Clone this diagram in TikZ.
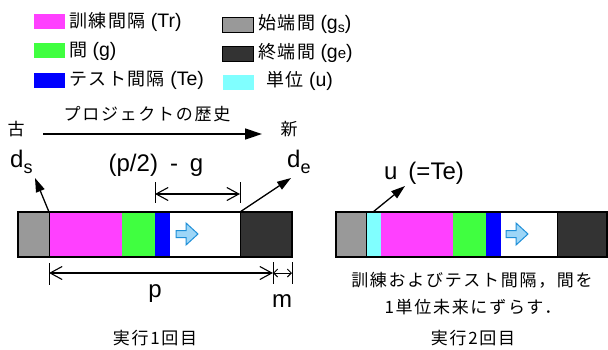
\documentclass[tikz,border=0pt]{standalone}
\usepackage{fontspec}
\setmainfont{Liberation Sans}
\newfontfamily\jp{Noto Sans CJK JP}[LetterSpace=8]
\newfontfamily\jpw{Noto Sans CJK JP}[LetterSpace=10]
\usetikzlibrary{arrows.meta}
\definecolor{cTr}{HTML}{FF40FF}
\definecolor{cG}{HTML}{40FF40}
\definecolor{cTe}{HTML}{0000FF}
\definecolor{cGs}{HTML}{999999}
\definecolor{cGe}{HTML}{333333}
\definecolor{cU}{HTML}{80FFFF}
\definecolor{arrFill}{HTML}{9DD6F7}
\definecolor{arrLine}{HTML}{1E8FD8}
\newcommand{\fs}[1]{\fontsize{#1}{#1}\selectfont}
\tikzset{
  swatch/.style={minimum width=31pt, minimum height=15pt, inner sep=0pt, outer sep=0pt},
  legtext/.style={anchor=west, inner sep=0pt, font=\fs{19.5}},
  big/.style={inner sep=0pt, font=\fs{24}},
  jptext/.style={inner sep=0pt, font=\fs{17}\jpw},
  ptr/.style={line width=1.3pt, -{Triangle[length=14pt,width=9pt]}},
  dim/.style={line width=1.1pt, {Straight Barb[length=12pt,width=13pt]}-{Straight Barb[length=12pt,width=13pt]}},
  dimsmall/.style={line width=0.9pt, {Straight Barb[length=4pt,width=8pt]}-{Straight Barb[length=4pt,width=8pt]}},
  tick/.style={line width=1pt},
  barline/.style={line width=1.4pt},
  blockarrow/.style={fill=arrFill, draw=arrLine, line width=1pt, line join=miter}
}
\newcommand{\blockarr}[2]{%
  \path[blockarrow] (#1-12,#2-3.5) -- (#1-2,#2-3.5) -- (#1-2,#2-11) -- (#1+10,#2) -- (#1-2,#2+11) -- (#1-2,#2+3.5) -- (#1-12,#2+3.5) -- cycle;}
\begin{document}
\begin{tikzpicture}[x=1pt,y=-1pt]
\useasboundingbox (0,0) rectangle (608,349);

% ---------- legend ----------
\node[swatch, fill=cTr] (lTr) at (49.5,21.5) {};
\node[legtext] (tTr) at (69,22) {{\jp\fs{18}訓練間隔} (Tr)};
\node[swatch, fill=cG] (lG) at (49.5,50.5) {};
\node[legtext] (tG) at (69,51) {{\jp\fs{18}間} (g)};
\node[swatch, fill=cTe] (lTe) at (49.5,80) {};
\node[legtext] (tTe) at (69,80) {{\jp\fs{18}テスト間隔} (Te)};

\node[swatch, fill=cGs, draw=black, line width=1pt] (lGs) at (238,24.5) {};
\node[legtext] (tGs) at (258,24) {{\jp\fs{18}始端間} (g\raisebox{-3pt}{\fs{14}s})};
\node[swatch, fill=cGe, draw=black, line width=1pt] (lGe) at (238,54) {};
\node[legtext] (tGe) at (258,53) {{\jp\fs{18}終端間} (g{\fs{15}e})};
\node[swatch, fill=cU] (lU) at (238.5,82.5) {};
\node[legtext] (tU) at (266,81) {{\jp\fs{18}単位} (u)};

% ---------- history axis ----------
\node[jptext] (old) at (16,129) {古};
\node[jptext] (new) at (289,129) {新};
\node[jptext] (hist) at (147,114) {プロジェクトの歴史};
\coordinate (axS) at (43,134);
\coordinate (axE) at (262,134);
\draw[line width=1.4pt, -{Triangle[length=17pt,width=11pt]}] (axS) -- (axE);

% ---------- bar 1 ----------
\fill[cGs] (18,212) rectangle (49,257);
\fill[cTr] (49,212) rectangle (122,257);
\fill[cG] (122,212) rectangle (155,257);
\fill[cTe] (155,212) rectangle (170,257);
\fill[white] (170,212) rectangle (240,257);
\fill[cGe] (240,212) rectangle (292,257);
\draw[barline] (18,212) rectangle (292,257);
\draw[line width=1pt] (49,212) -- (49,257);
\draw[line width=1pt] (240,212) -- (240,257);
\blockarr{188}{234}

% d_s
\node[big, anchor=base west] (ds) at (10,167) {d\raisebox{-6pt}{\fs{18}s}};
\coordinate (dsFrom) at (49,212);
\coordinate (dsTip) at (35,178);
\draw[ptr] (dsFrom) -- (dsTip);
% d_e
\node[big, anchor=base west] (de) at (287,167) {d\raisebox{-6pt}{\fs{18}e}};
\coordinate (deFrom) at (240,212);
\coordinate (deTip) at (291,178);
\draw[ptr] (deFrom) -- (deTip);

% (p/2)-g
\node[big] (half) at (156,165) {(p/2)\hspace{12pt}-\hspace{12pt}g};
\coordinate (h1t) at (155,182); \coordinate (h1b) at (155,203);
\coordinate (h2t) at (240,182); \coordinate (h2b) at (240,203);
\draw[tick] (h1t) -- (h1b);
\draw[tick] (h2t) -- (h2b);
\coordinate (hL) at (155,194); \coordinate (hR) at (240,194);
\draw[dim] (hL) -- (hR);

% p and m
\coordinate (p1t) at (49,263); \coordinate (p1b) at (49,285);
\coordinate (p2t) at (273,262); \coordinate (p2b) at (273,284);
\coordinate (p3t) at (292,262); \coordinate (p3b) at (292,284);
\draw[tick] (p1t) -- (p1b);
\draw[tick] (p2t) -- (p2b);
\draw[tick] (p3t) -- (p3b);
\coordinate (pL) at (49,273); \coordinate (pR) at (273,273); \coordinate (mR) at (292,273);
\draw[dim] (pL) -- (pR);
\draw[dimsmall] (pR) -- (mR);
\node[big] (p) at (155,294) {p};
\node[big] (m) at (282,301) {m};

\node[jptext] (run1) at (155,338) {実行1回目};

% ---------- bar 2 ----------
\fill[cGs] (336,212) rectangle (366,257);
\fill[cU] (366,212) rectangle (381,257);
\fill[cTr] (381,212) rectangle (453,257);
\fill[cG] (453,212) rectangle (486,257);
\fill[cTe] (486,212) rectangle (501,257);
\fill[white] (501,212) rectangle (557,257);
\fill[cGe] (557,212) rectangle (607,257);
\draw[barline] (336,212) rectangle (607,257);
\draw[line width=1pt] (366,212) -- (366,257);
\draw[line width=1pt] (557,212) -- (557,257);
\blockarr{518}{234}

\node[big] (u) at (424,173) {u\hspace{11pt}(=Te)};
\coordinate (uFrom) at (373,212);
\coordinate (uTip) at (405,186);
\draw[ptr] (uFrom) -- (uTip);

\node[jptext] (shift1) at (472,280) {訓練およびテスト間隔，間を};
\node[jptext] (shift2) at (473,307) {1単位未来にずらす．};
\node[jptext] (run2) at (473,338) {実行2回目};
\end{tikzpicture}
\end{document}
